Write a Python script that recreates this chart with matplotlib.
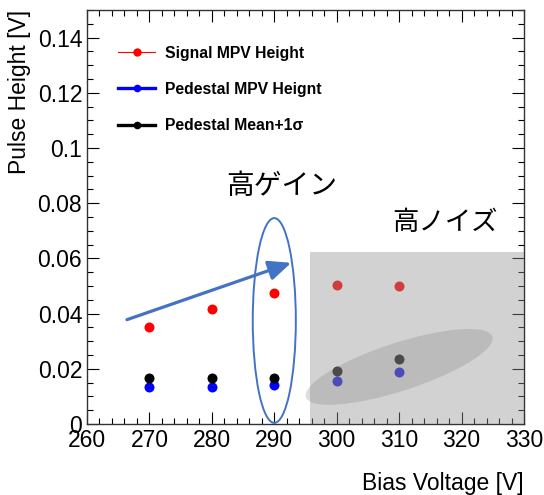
import matplotlib
matplotlib.use("Agg")
import matplotlib.pyplot as plt
from matplotlib.patches import Ellipse, Rectangle
from matplotlib.lines import Line2D
from matplotlib.ticker import MultipleLocator
import matplotlib.transforms as mtransforms

plt.rcParams['font.family'] = ['Liberation Sans', 'DejaVu Sans']

# Bias voltage scan
bias_v = [270, 280, 290, 300, 310]
signal_mpv = [0.0353, 0.0418, 0.0475, 0.0503, 0.0500]
pedestal_mpv = [0.0135, 0.0135, 0.0140, 0.0154, 0.0187]
pedestal_mean_1sigma = [0.0166, 0.0166, 0.0168, 0.0193, 0.0236]

series_labels = ["Signal MPV Height", "Pedestal MPV Heignt", "Pedestal Mean+1\u03c3"]
series_colors = ["#ff0000", "#0000ff", "#000000"]

note_gain = "高ゲイン"
note_noise = "高ノイズ"

W, H, DPI = 544, 495, 100
fig = plt.figure(figsize=(W / DPI, H / DPI), dpi=DPI)
ax = fig.add_axes([87 / W, 1 - 424 / H, 437 / W, 414 / H])

ms = 7.2
ax.plot(bias_v, signal_mpv, 'o', color=series_colors[0], ms=ms, mec='none', zorder=3)
ax.plot(bias_v, pedestal_mpv, 'o', color=series_colors[1], ms=ms, mec='none', zorder=3)
ax.plot(bias_v, pedestal_mean_1sigma, 'o', color=series_colors[2], ms=ms, mec='none', zorder=3)

ax.set_xlim(260, 330)
ax.set_ylim(0, 0.15)
ax.xaxis.set_major_locator(MultipleLocator(10))
ax.xaxis.set_minor_locator(MultipleLocator(2))
ax.yaxis.set_major_locator(MultipleLocator(0.02))
ax.yaxis.set_minor_locator(MultipleLocator(0.005))
ax.set_yticks([0, 0.02, 0.04, 0.06, 0.08, 0.1, 0.12, 0.14])
ax.set_yticklabels(["0", "0.02", "0.04", "0.06", "0.08", "0.1", "0.12", "0.14"])

ax.tick_params(which='both', direction='in', top=True, right=True, width=0.8,
               labelsize=16.5, colors='black')
ax.tick_params(which='major', length=8.6, pad=3.5)
ax.tick_params(which='minor', length=4.3)
for s in ax.spines.values():
    s.set_linewidth(1.0)
    s.set_color('#333333')

ax.set_xlabel("Bias Voltage [V]", fontsize=16.5, loc='right')
ax.xaxis.set_label_coords(1.0, -0.115)
ax.set_ylabel("Pulse Height [V]", fontsize=16.5, loc='top')
ax.yaxis.set_label_coords(-0.128, 1.0)

# high-noise region
ax.add_patch(Rectangle((295.8, 0), 34.2, 0.0623, facecolor='#939393', alpha=0.41,
                       edgecolor='none', zorder=4))
noise_ell = Ellipse((0, 0), 1.96, 0.48, angle=18, facecolor='#7a7a7a', alpha=0.25,
                    edgecolor='none', zorder=5,
                    transform=fig.dpi_scale_trans + mtransforms.ScaledTranslation(310.0, 0.0207, ax.transData))
ax.add_patch(noise_ell)

# high-gain marker
ax.add_patch(Ellipse((290, 0.0375), 6.9, 0.0742, facecolor='none', edgecolor='#4472c4',
                     lw=1.4, zorder=6))
ax.annotate("", xy=(292.7, 0.0584), xytext=(266.4, 0.0378),
            arrowprops=dict(arrowstyle='-|>,head_length=0.68,head_width=0.3', color='#4472c4',
                            lw=2.3, mutation_scale=20, shrinkA=0, shrinkB=0), zorder=6)

ax.text(291.25, 0.0862, note_gain, fontsize=20, ha='center', va='center',
        family=['Noto Sans CJK JP'], zorder=7)
ax.text(317.4, 0.0731, note_noise, fontsize=19, ha='center', va='center',
        family=['Noto Sans CJK JP'], zorder=7)

handles = [
    Line2D([], [], color=series_colors[0], lw=0.8, marker='o', ms=6, mec='none'),
    Line2D([], [], color=series_colors[1], lw=2.4, marker='o', ms=5.5, mec='none'),
    Line2D([], [], color=series_colors[2], lw=2.4, marker='o', ms=5.5, mec='none'),
]
ax.legend(handles, series_labels, loc='upper left', bbox_to_anchor=(0.056, 0.929),
          frameon=False, prop={'family': 'Liberation Sans', 'weight': 'bold', 'size': 11.3},
          handlelength=2.4, handletextpad=0.6, labelspacing=1.35, borderaxespad=0)

fig.savefig("out.png", dpi=DPI)
